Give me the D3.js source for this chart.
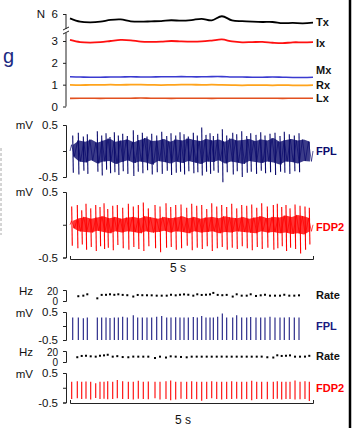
<!DOCTYPE html>
<html>
<head>
<meta charset="utf-8">
<script src="https://cdn.jsdelivr.net/npm/d3@7"></script>
<style>
  body { margin: 0; background: #fff; }
  svg { display: block; font-family: "Liberation Sans", Arial, sans-serif; }
</style>
</head>
<body>
<svg id="chart" width="358" height="428"></svg>
<script>
// ---- force traces (N), 25 samples over 5 s ----
let txForce = [5.73, 5.52, 5.48, 5.52, 5.63, 5.66, 5.54, 5.52, 5.54, 5.56, 5.61, 5.58, 5.62, 5.70, 5.60, 5.86, 5.60, 5.55, 5.52, 5.50, 5.50, 5.43, 5.44, 5.42, 5.46];
let ixForce = [3.05, 2.95, 2.93, 2.95, 3.00, 3.05, 3.03, 2.97, 2.96, 2.97, 3.00, 2.98, 2.97, 2.98, 3.02, 3.07, 2.98, 2.94, 2.95, 2.96, 2.92, 2.90, 2.94, 2.94, 2.95];
let mxForce = [1.36, 1.35, 1.34, 1.34, 1.35, 1.35, 1.36, 1.35, 1.35, 1.36, 1.36, 1.37, 1.36, 1.36, 1.37, 1.37, 1.35, 1.35, 1.34, 1.34, 1.35, 1.34, 1.33, 1.33, 1.34];
let rxForce = [0.99, 0.98, 0.99, 0.99, 1.00, 0.99, 1.00, 1.00, 0.99, 0.98, 0.99, 1.00, 1.00, 0.99, 1.00, 0.99, 0.98, 0.97, 0.98, 0.98, 0.97, 0.98, 0.97, 0.97, 0.98];
let lxForce = [0.37, 0.38, 0.38, 0.37, 0.38, 0.38, 0.38, 0.39, 0.38, 0.38, 0.37, 0.38, 0.38, 0.38, 0.37, 0.38, 0.38, 0.38, 0.38, 0.38, 0.38, 0.37, 0.38, 0.38, 0.38];

// ---- FPL motor unit: discharge times (s), unit waveform tops (mV), raw spike peaks (mV) ----
let fplTimes = [0.056, 0.171, 0.274, 0.356, 0.562, 0.652, 0.741, 0.823, 0.912, 0.994, 1.084, 1.179, 1.302, 1.393, 1.488, 1.584, 1.681, 1.784, 1.887, 1.990, 2.078, 2.175, 2.263, 2.346, 2.434, 2.537, 2.619, 2.710, 2.798, 2.881, 2.949, 3.039, 3.134, 3.224, 3.348, 3.430, 3.533, 3.636, 3.718, 3.827, 3.924, 4.012, 4.115, 4.218, 4.321, 4.409, 4.512, 4.615, 4.712];
let fplBarTop = [0.30, 0.30, 0.28, 0.30, 0.30, 0.30, 0.30, 0.29, 0.30, 0.30, 0.33, 0.30, 0.38, 0.30, 0.30, 0.30, 0.30, 0.33, 0.36, 0.30, 0.30, 0.31, 0.30, 0.30, 0.30, 0.32, 0.30, 0.36, 0.30, 0.30, 0.30, 0.33, 0.45, 0.30, 0.30, 0.38, 0.30, 0.30, 0.32, 0.30, 0.30, 0.30, 0.33, 0.30, 0.30, 0.30, 0.31, 0.30, 0.30];
let fplRawUp = [0.30, 0.35, 0.28, 0.32, 0.38, 0.30, 0.34, 0.27, 0.36, 0.30, 0.33, 0.29, 0.40, 0.31, 0.35, 0.28, 0.33, 0.30, 0.37, 0.29, 0.34, 0.30, 0.36, 0.32, 0.28, 0.35, 0.30, 0.45, 0.31, 0.34, 0.29, 0.33, 0.42, 0.30, 0.35, 0.32, 0.38, 0.29, 0.34, 0.31, 0.36, 0.30, 0.33, 0.35, 0.29, 0.37, 0.32, 0.30, 0.34];
let fplRawDown = [-0.42, -0.45, -0.38, -0.44, -0.40, -0.47, -0.36, -0.43, -0.41, -0.46, -0.39, -0.44, -0.48, -0.40, -0.43, -0.37, -0.45, -0.41, -0.44, -0.38, -0.46, -0.42, -0.40, -0.45, -0.39, -0.43, -0.41, -0.47, -0.40, -0.44, -0.38, -0.42, -0.60, -0.41, -0.45, -0.39, -0.50, -0.42, -0.40, -0.44, -0.38, -0.43, -0.41, -0.46, -0.40, -0.42, -0.44, -0.39, -0.41];
// interference envelope of the raw FPL recording (mV), 40 windows
let fplNoiseTop = [0.12, 0.20, 0.18, 0.22, 0.16, 0.20, 0.24, 0.18, 0.20, 0.22, 0.17, 0.21, 0.25, 0.19, 0.20, 0.23, 0.18, 0.22, 0.20, 0.24, 0.21, 0.19, 0.23, 0.20, 0.22, 0.18, 0.24, 0.20, 0.21, 0.23, 0.19, 0.22, 0.20, 0.25, 0.18, 0.21, 0.23, 0.20, 0.22, 0.18];
let fplNoiseBottom = [-0.10, -0.20, -0.22, -0.18, -0.24, -0.20, -0.19, -0.25, -0.21, -0.18, -0.23, -0.20, -0.22, -0.26, -0.19, -0.21, -0.24, -0.20, -0.23, -0.19, -0.22, -0.25, -0.20, -0.21, -0.18, -0.24, -0.20, -0.22, -0.25, -0.19, -0.21, -0.23, -0.20, -0.22, -0.26, -0.20, -0.21, -0.24, -0.19, -0.20];

// ---- FDP2 motor unit ----
let fdpTimes = [0.035, 0.150, 0.241, 0.329, 0.426, 0.529, 0.617, 0.700, 0.776, 0.879, 0.973, 1.084, 1.200, 1.302, 1.405, 1.508, 1.611, 1.749, 1.852, 1.975, 2.072, 2.175, 2.284, 2.401, 2.504, 2.607, 2.710, 2.813, 2.916, 3.019, 3.121, 3.224, 3.327, 3.430, 3.533, 3.636, 3.739, 3.842, 3.944, 4.060, 4.183, 4.265, 4.356, 4.444, 4.527, 4.630, 4.733, 4.835, 4.924];
let fdpBarTop = [0.20, 0.22, 0.20, 0.21, 0.20, 0.15, 0.20, 0.20, 0.22, 0.20, 0.26, 0.22, 0.20, 0.20, 0.24, 0.20, 0.21, 0.20, 0.20, 0.22, 0.25, 0.20, 0.20, 0.20, 0.22, 0.20, 0.20, 0.20, 0.22, 0.20, 0.20, 0.20, 0.22, 0.20, 0.20, 0.20, 0.24, 0.20, 0.20, 0.20, 0.20, 0.22, 0.20, 0.20, 0.20, 0.25, 0.20, 0.22, 0.20];
let fdpBarBottom = [-0.38, -0.36, -0.38, -0.37, -0.40, -0.35, -0.38, -0.37, -0.39, -0.38, -0.36, -0.38, -0.38, -0.40, -0.37, -0.38, -0.39, -0.36, -0.40, -0.38, -0.42, -0.40, -0.37, -0.38, -0.38, -0.39, -0.44, -0.38, -0.36, -0.38, -0.40, -0.38, -0.38, -0.37, -0.39, -0.38, -0.42, -0.38, -0.38, -0.39, -0.38, -0.37, -0.40, -0.38, -0.38, -0.40, -0.39, -0.38, -0.45];
let fdpRawUp = [0.28, 0.30, 0.22, 0.32, 0.25, 0.30, 0.27, 0.33, 0.24, 0.29, 0.30, 0.26, 0.32, 0.28, 0.30, 0.34, 0.25, 0.30, 0.28, 0.33, 0.27, 0.30, 0.31, 0.26, 0.32, 0.29, 0.30, 0.24, 0.33, 0.28, 0.30, 0.27, 0.32, 0.25, 0.30, 0.29, 0.31, 0.26, 0.33, 0.28, 0.30, 0.32, 0.27, 0.30, 0.25, 0.31, 0.29, 0.28, 0.26];
let fdpRawDown = [-0.32, -0.36, -0.30, -0.38, -0.34, -0.40, -0.33, -0.37, -0.35, -0.39, -0.31, -0.36, -0.38, -0.34, -0.37, -0.40, -0.33, -0.36, -0.42, -0.35, -0.34, -0.38, -0.36, -0.32, -0.39, -0.35, -0.37, -0.33, -0.40, -0.36, -0.34, -0.38, -0.35, -0.37, -0.33, -0.36, -0.39, -0.34, -0.37, -0.35, -0.38, -0.36, -0.33, -0.40, -0.35, -0.37, -0.44, -0.38, -0.30];
let fdpNoiseTop = [0.06, 0.10, 0.12, 0.09, 0.11, 0.13, 0.10, 0.12, 0.09, 0.11, 0.12, 0.10, 0.13, 0.11, 0.09, 0.12, 0.10, 0.11, 0.13, 0.10, 0.12, 0.09, 0.11, 0.12, 0.10, 0.13, 0.11, 0.10, 0.12, 0.09, 0.11, 0.13, 0.10, 0.12, 0.11, 0.14, 0.12, 0.15, 0.13, 0.10];
let fdpNoiseBottom = [-0.05, -0.10, -0.11, -0.12, -0.09, -0.11, -0.13, -0.10, -0.12, -0.10, -0.11, -0.13, -0.10, -0.12, -0.11, -0.09, -0.12, -0.10, -0.11, -0.13, -0.10, -0.12, -0.11, -0.10, -0.13, -0.11, -0.12, -0.10, -0.11, -0.12, -0.13, -0.10, -0.12, -0.11, -0.13, -0.12, -0.14, -0.13, -0.15, -0.10];

const svg = d3.select('#chart');
const navy = '#0b0b6c';
const red = '#ff0000';
const axisX = 66;

// shared time scale (5 s window)
const x = d3.scaleLinear().domain([0, 5]).range([70, 313]);

// left axis as a "]" bracket with ticks pointing left
function leftAxis(scale, values, fmt) {
    let g = svg.append('g')
        .attr('transform', `translate(${axisX},0)`)
        .call(d3.axisLeft(scale).tickValues(values).tickSize(3).tickSizeOuter(3).tickFormat(fmt));
    g.selectAll('path, line').attr('stroke', '#222').attr('stroke-width', 1);
    g.selectAll('text').attr('font-size', 11.5).attr('fill', '#111').attr('x', -8)
        .attr('font-family', '"Liberation Sans", Arial, sans-serif');
    return g;
}

function unitLabel(text, y, xEnd) {
    svg.append('text').attr('x', xEnd || 33).attr('y', y).attr('dy', '0.35em')
        .attr('text-anchor', 'end').attr('font-size', 11.5).attr('fill', '#111').text(text);
}

function sideLabel(text, y, color) {
    svg.append('text').attr('x', 316).attr('y', y).attr('dy', '0.35em')
        .attr('font-size', 11).attr('font-weight', 'bold').attr('fill', color).text(text);
}

function timeBar(y, labelX, labelY) {
    let g = svg.append('g')
        .attr('transform', `translate(0,${y})`)
        .call(d3.axisBottom(x).tickValues([]).tickSizeOuter(-3));
    g.select('path').attr('stroke', '#222');
    svg.append('text').attr('x', labelX).attr('y', labelY).attr('text-anchor', 'middle')
        .attr('font-size', 12).attr('fill', '#111').text('5 s');
}

// ---------- panel 1: forces ----------
const forceT = txForce.map((d, i) => i * 5 / (txForce.length - 1));
const yLow = d3.scaleLinear().domain([0, 3]).range([106.5, 41]);
const yTop = d3.scaleLinear().domain([5, 6]).range([30, 14]);

let ax1 = leftAxis(yLow, [0, 1, 2, 3], d3.format('d'));
ax1.select('.domain').remove();
let ax1b = leftAxis(yTop, [6], d3.format('d'));
ax1b.select('.domain').remove();
// continuous axis line through the break
svg.append('line').attr('x1', axisX).attr('x2', axisX)
    .attr('y1', yTop(6)).attr('y2', yLow(0)).attr('stroke', '#222');
// break mark
svg.append('rect').attr('x', axisX - 2).attr('y', yTop(5) - 1).attr('width', 4).attr('height', 4).attr('fill', '#fff');
svg.append('path')
    .attr('d', `M${axisX - 3},${yTop(5)} L${axisX + 3},${yTop(5) - 3} M${axisX - 3},${yTop(5) + 4} L${axisX + 3},${yTop(5) + 1}`)
    .attr('stroke', '#222').attr('fill', 'none');
unitLabel('N', yTop(6), 45);

let forceSeries = [
    { name: 'Lx', values: lxForce, color: '#e2501f', width: 1.6, scale: yLow, nudge: 0 },
    { name: 'Rx', values: rxForce, color: '#ffa41c', width: 1.8, scale: yLow, nudge: 0 },
    { name: 'Mx', values: mxForce, color: '#3a3ad0', width: 1.6, scale: yLow, nudge: -7 },
    { name: 'Ix', values: ixForce, color: '#ff1010', width: 1.8, scale: yLow, nudge: 1 },
    { name: 'Tx', values: txForce, color: '#000', width: 1.8, scale: yTop, nudge: 0 }
];
forceSeries.forEach(s => {
    let line = d3.line()
        .x((d, i) => x(forceT[i]))
        .y(d => s.scale(d))
        .curve(d3.curveCatmullRom);
    svg.append('path').datum(s.values).attr('d', line)
        .attr('fill', 'none').attr('stroke', s.color).attr('stroke-width', s.width);
    sideLabel(s.name, s.scale(s.values[s.values.length - 1]) + s.nudge, '#111');
});

svg.append('text').attr('x', 3).attr('y', 63).attr('font-size', 20).attr('fill', '#1c2a82').text('g');

// ---------- raw EMG panels ----------
function drawRaw(yS, noiseTop, noiseBottom, times, up, down, color) {
    let nT = noiseTop.map((d, i) => (i + 0.5) * 5 / noiseTop.length);
    let area = d3.area()
        .x((d, i) => x(nT[i]))
        .y0((d, i) => yS(noiseBottom[i]))
        .y1(d => yS(d));
    svg.append('path').datum(noiseTop).attr('d', area).attr('fill', color).attr('opacity', 0.8);

    // zig-zag between envelope extremes
    let pts = [[0, 0]];
    noiseTop.forEach((d, i) => {
        pts.push([nT[i] - 0.03, d]);
        pts.push([nT[i] + 0.03, noiseBottom[i]]);
    });
    pts.push([5, 0]);
    svg.append('path').datum(pts)
        .attr('d', d3.line().x(d => x(d[0])).y(d => yS(d[1])))
        .attr('fill', 'none').attr('stroke', color).attr('stroke-width', 0.7);

    svg.append('g').selectAll('line').data(times).join('line')
        .attr('x1', d => x(d)).attr('x2', d => x(d) + 0.6)
        .attr('y1', (d, i) => yS(up[i])).attr('y2', (d, i) => yS(down[i]))
        .attr('stroke', color).attr('stroke-width', 1.1);
}

const yFplRaw = d3.scaleLinear().domain([-0.5, 0.5]).range([177, 125]);
leftAxis(yFplRaw, [-0.5, 0, 0.5], d => d === 0 ? '' : d);
unitLabel('mV', yFplRaw(0.5));
drawRaw(yFplRaw, fplNoiseTop, fplNoiseBottom, fplTimes, fplRawUp, fplRawDown, navy);
sideLabel('FPL', yFplRaw(0), navy);

const yFdpRaw = d3.scaleLinear().domain([-0.5, 0.5]).range([257.5, 192]);
leftAxis(yFdpRaw, [-0.5, 0, 0.5], d => d === 0 ? '' : d);
unitLabel('mV', yFdpRaw(0.5));
drawRaw(yFdpRaw, fdpNoiseTop, fdpNoiseBottom, fdpTimes, fdpRawUp, fdpRawDown, red);
sideLabel('FDP2', yFdpRaw(0) + 2, red);

timeBar(259, 178, 272);

// ---------- decomposed motor unit panels ----------
function drawUnit(yRate, yUnit, times, tops, bottoms, color, name) {
    let ra = leftAxis(yRate, [0, 20], d => d);
    ra.selectAll('text').attr('font-size', 10).attr('dy', d => d === 0 ? '0.3em' : '0.45em');
    unitLabel('Hz', yRate(20) + 1);
    leftAxis(yUnit, [-0.5, 0, 0.5], d => d === 0 ? '' : d);
    unitLabel('mV', yUnit(0.5) + 1);

    // instantaneous discharge rate from inter-spike intervals
    let rates = times.slice(1).map((t, i) => ({ t: t, r: 1 / (t - times[i]) }));
    svg.append('g').selectAll('rect').data(rates).join('rect')
        .attr('x', d => x(d.t) - 1).attr('y', d => yRate(d.r) - 1)
        .attr('width', 2).attr('height', 2).attr('fill', '#000');

    svg.append('g').selectAll('line').data(times).join('line')
        .attr('x1', d => x(d)).attr('x2', d => x(d))
        .attr('y1', (d, i) => yUnit(tops[i]))
        .attr('y2', (d, i) => yUnit(bottoms ? bottoms[i] : -0.5))
        .attr('stroke', color).attr('stroke-width', 1.1);

    sideLabel('Rate', yRate(10), '#111');
    sideLabel(name, yUnit(0), color);
}

const yRate1 = d3.scaleLinear().domain([0, 20]).range([301, 290]);
const yFplUnit = d3.scaleLinear().domain([-0.5, 0.5]).range([340, 312]);
drawUnit(yRate1, yFplUnit, fplTimes, fplBarTop, null, '#1a1a80', 'FPL');

const yRate2 = d3.scaleLinear().domain([0, 20]).range([362, 351]);
const yFdpUnit = d3.scaleLinear().domain([-0.5, 0.5]).range([402.5, 373]);
drawUnit(yRate2, yFdpUnit, fdpTimes, fdpBarTop, fdpBarBottom, red, 'FDP2');

timeBar(403, 183, 424);

// frame bits
svg.append('line').attr('x1', 350).attr('x2', 350).attr('y1', 0).attr('y2', 428)
    .attr('stroke', '#000').attr('stroke-width', 2.5);
svg.append('line').attr('x1', 1).attr('x2', 1).attr('y1', 148).attr('y2', 235)
    .attr('stroke', '#aaa').attr('stroke-dasharray', '3,2');
</script>
</body>
</html>
